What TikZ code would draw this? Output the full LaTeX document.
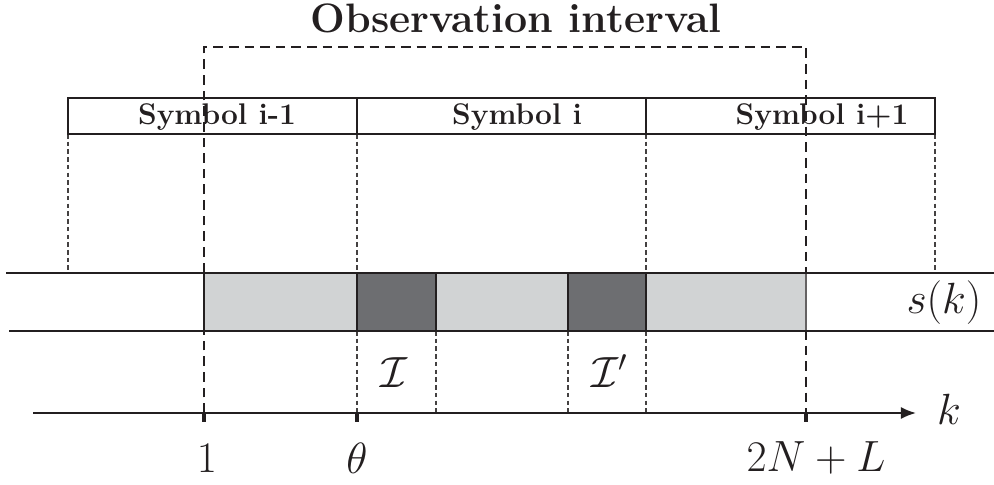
\documentclass[tikz,border=0pt]{standalone}
\usetikzlibrary{arrows.meta}
\definecolor{lightfill}{HTML}{D1D3D4}
\definecolor{darkfill}{HTML}{6D6E71}
\definecolor{linec}{HTML}{231F20}
\begin{document}
\begin{tikzpicture}[x=0.02cm,y=-0.02cm,
  thinline/.style={draw=linec,line width=0.6pt},
  obsdash/.style={draw=linec,line width=1.2pt,dash pattern=on 5.5pt off 3.4pt},
  guide/.style={draw=linec!85,line width=0.65pt,dash pattern=on 2.6pt off 1.8pt},
  tick/.style={draw=linec,line width=2pt},
  symlabel/.style={font=\fontsize{17}{20}\selectfont\bfseries,text=linec,inner sep=0pt},
  mathlabel/.style={font=\fontsize{25}{30}\selectfont,text=linec,inner sep=0pt}]
\useasboundingbox (0,0) rectangle (994,484);
% coordinates
\coordinate (oL) at (204,47); \coordinate (oR) at (806,47);
\coordinate (oLb) at (204,413); \coordinate (oRb) at (806,413);
% thick observation interval
\draw[obsdash] (oLb) -- (oL) -- (oR) -- (oRb);
% guides from symbol boxes down to signal
\foreach \x in {68,357,646,935} \draw[guide] (\x,134) -- (\x,273);
\foreach \x in {357,436,568,646} \draw[guide] (\x,331) -- (\x,413);
% signal band
\fill[lightfill] (204,273) rectangle (806,331);
\fill[darkfill] (357,273) rectangle (436,331);
\fill[darkfill] (568,273) rectangle (646,331);
\draw[thinline] (204,273) -- (204,331);
\draw[thinline] (357,273) -- (357,331) (436,273) -- (436,331);
\draw[thinline] (568,273) -- (568,331) (646,273) -- (646,331);
\draw[draw=linec!70,line width=0.6pt] (806,273) -- (806,331);
\draw[thinline] (6,273) -- (994,273);
\draw[thinline] (9,331) -- (994,331);
% symbol boxes
\draw[thinline] (68,98) rectangle (935,134);
\draw[thinline] (357,98) -- (357,134) (646,98) -- (646,134);
\node[symlabel] (sym1) at (217,117) {Symbol i-1};
\node[symlabel] (sym2) at (517,117) {Symbol i};
\node[symlabel] (sym3) at (822,117) {Symbol i+1};
% title
\node[font=\fontsize{23.4}{28}\selectfont\bfseries,text=linec,inner sep=0pt] (title) at (516,18) {Observation interval};
% axis
\coordinate (ax0) at (33,413);
\coordinate (ax1) at (916,413);
\draw[draw=linec,line width=1.1pt,-{Latex[length=15pt*0.57,width=12pt*0.57]}] (ax0) -- (ax1);
\foreach \x in {204,357,806} \draw[tick] (\x,413) -- (\x,422);
% labels
\node[mathlabel] (l1) at (207,458) {$1$};
\node[mathlabel] (lth) at (357,458) {$\theta$};
\node[mathlabel] (l2n) at (816,458) {$2N+L$};
\node[mathlabel] (lk) at (949,409) {$k$};
\node[mathlabel] (ls) at (944,303) {$s(k)$};
\node[mathlabel] (lI) at (394,373) {$\mathcal{I}$};
\node[mathlabel] (lIp) at (610,371) {$\mathcal{I}'$};
\end{tikzpicture}
\end{document}
